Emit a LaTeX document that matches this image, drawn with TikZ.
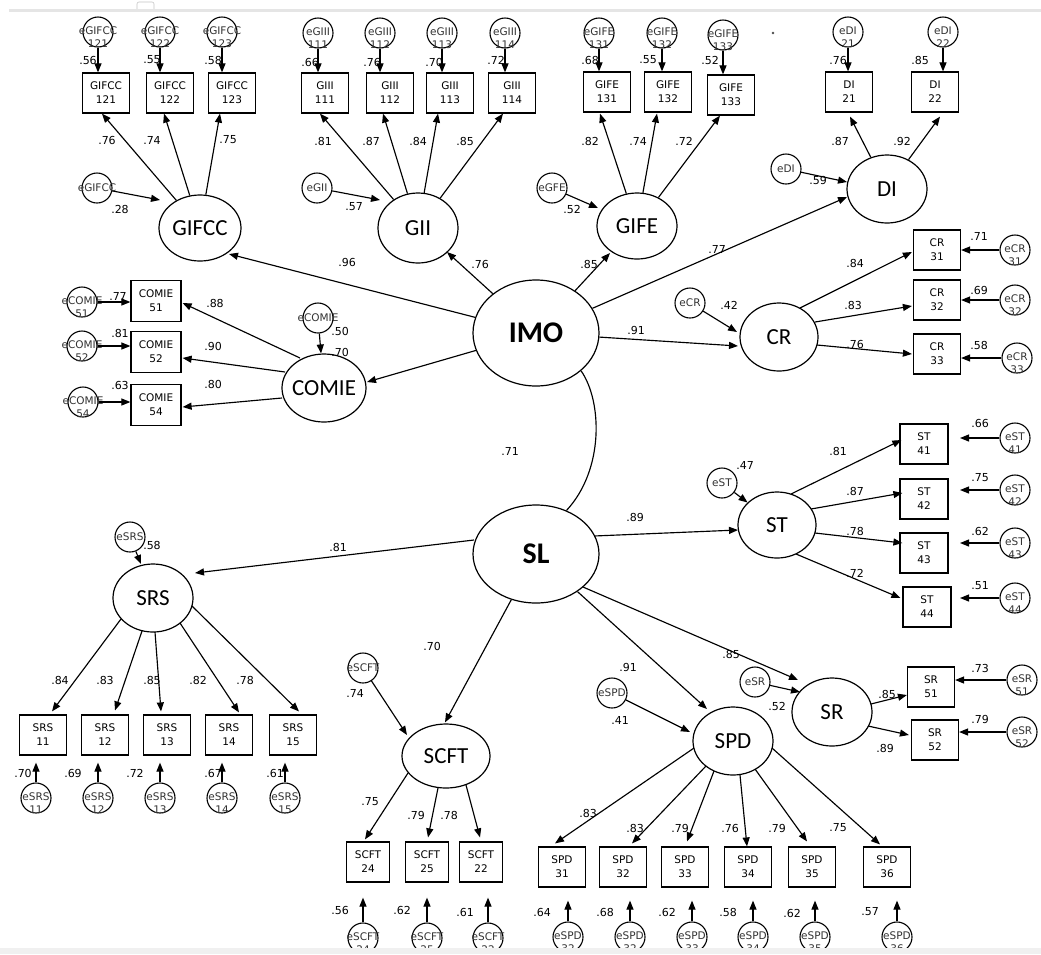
\documentclass[tikz,border=0pt]{standalone}
\usepackage{fontspec}
\setmainfont{DejaVu Sans}
\newfontfamily\latfont{Carlito}
\usetikzlibrary{arrows.meta,shapes.geometric,calc}
\newcommand\zw[1]{\makebox[0pt]{#1}}

\begin{document}
\begin{tikzpicture}[x=1pt,y=-1pt,
  lat/.style={ellipse,draw,line width=1.2pt,inner sep=0pt,minimum width=80pt,minimum height=67pt,
    font=\latfont\fontsize{23}{23}\selectfont},
  core/.style={lat,minimum width=126pt,minimum height=106pt,font=\latfont\bfseries\fontsize{30}{30}\selectfont},
  obs/.style={rectangle,draw,line width=1.2pt,minimum width=47pt,minimum height=40pt,inner sep=0pt,
    align=center,font=\fontsize{10.5}{14}\selectfont},
  etxt/.style={font=\fontsize{10.5}{13.5}\selectfont,text=black!80,align=center,inner sep=0pt,yshift=-5pt},
  err/.style={circle,draw,line width=1.1pt,minimum size=30pt,inner sep=0pt,label={[etxt]center:#1}},
  derr/.style={circle,draw,line width=1.1pt,minimum size=30pt,inner sep=0pt,label={[etxt,yshift=5pt]center:#1}},
  lbl/.style={font=\fontsize{11}{13}\selectfont,inner sep=0pt},
  ar/.style={-{Triangle[length=9pt,width=7pt]},line width=1.15pt},
  cor/.style={line width=1.15pt},
]
\useasboundingbox (0,0) rectangle (1041,954);
\fill[white] (0,0) rectangle (1041,954);
\draw[gray!45,line width=0.6pt,rounded corners=2pt] (137,2) rectangle (154,11);
\draw[gray!20,line width=3pt] (9,10) -- (1041,10);
\fill[black!70] (773,33) circle (1.3);

% second-order factors
\node[core] (imo) at (536,333) {\zw{IMO}};
\node[core,minimum height=98pt] (sl) at (536,554) {\zw{SL}};

% ---------------- GIFCC
\node[lat,minimum width=82pt,minimum height=66pt] (gifcc) at (200,228) {\zw{GIFCC}};
\node[obs] (g1) at (106,93) {GIFCC\\121};
\node[obs] (g2) at (170,93) {GIFCC\\122};
\node[obs] (g3) at (232,93) {GIFCC\\123};
\node[err={eGIFCC\\121}] (eg1) at (98,32) {};
\node[err={eGIFCC\\122}] (eg2) at (160,32) {};
\node[err={eGIFCC\\123}] (eg3) at (222,32) {};
\node[derr=eGIFCC] (egifcc) at (97,188) {};
\foreach \e/\b in {eg1/g1,eg2/g2,eg3/g3} \draw[ar] (\e) -- (\e |- \b.north);
\draw[ar] (gifcc) -- ($(g1.south)+(-4,0)$);
\draw[ar] (gifcc) -- ($(g2.south)+(-6,0)$);
\draw[ar] (gifcc) -- ($(g3.south)+(-12,0)$);
\draw[ar] (egifcc) -- ($(gifcc)+(-40,-28)$);

% ---------------- GII
\node[lat,minimum height=70pt] (gii) at (418,228) {\zw{GII}};
\node[obs] (i1) at (325,93) {GIII\\111};
\node[obs] (i2) at (390,93) {GIII\\112};
\node[obs] (i3) at (450,93) {GIII\\113};
\node[obs] (i4) at (512,93) {GIII\\114};
\node[err={eGIII\\111}] (ei1) at (318,33) {};
\node[err={eGIII\\112}] (ei2) at (380,33) {};
\node[err={eGIII\\113}] (ei3) at (442,33) {};
\node[err={eGIII\\114}] (ei4) at (505,33) {};
\node[derr=eGII] (egii) at (317,188) {};
\foreach \e/\b in {ei1/i1,ei2/i2,ei3/i3,ei4/i4} \draw[ar] (\e) -- (\e |- \b.north);
\draw[ar] (gii) -- ($(i1.south)+(-5,0)$);
\draw[ar] (gii) -- ($(i2.south)+(-7,0)$);
\draw[ar] (gii) -- ($(i3.south)+(-12,0)$);
\draw[ar] (gii) -- ($(i4.south)+(-9,0)$);
\draw[ar] (egii) -- ($(gii)+(-38,-28)$);

% ---------------- GIFE
\node[lat,minimum height=66pt] (gife) at (637,226) {\zw{GIFE}};
\node[obs] (f1) at (607,92) {GIFE\\131};
\node[obs] (f2) at (668,92) {GIFE\\132};
\node[obs] (f3) at (731,95) {GIFE\\133};
\node[err={eGIFE\\131}] (ef1) at (599,33) {};
\node[err={eGIFE\\132}] (ef2) at (662,33) {};
\node[err={eGIFE\\133}] (ef3) at (723,35) {};
\node[derr=eGFE] (egife) at (552,188) {};
\foreach \e/\b in {ef1/f1,ef2/f2,ef3/f3} \draw[ar] (\e) -- (\e |- \b.north);
\draw[ar] (gife) -- ($(f1.south)+(-7,1)$);
\draw[ar] (gife) -- ($(f2.south)+(-11,1)$);
\draw[ar] (gife) -- ($(f3.south)+(-11,0)$);
\draw[ar] (egife) -- ($(gife)+(-39,-18)$);

% ---------------- DI
\node[lat,minimum height=68pt] (di) at (887,189) {\zw{DI}};
\node[obs] (d1) at (849,92) {DI\\21};
\node[obs] (d2) at (935,92) {DI\\22};
\node[err={eDI\\21}] (ed1) at (848,32) {};
\node[err={eDI\\22}] (ed2) at (943,32) {};
\node[derr=eDI] (edi) at (786,169) {};
\foreach \e/\b in {ed1/d1,ed2/d2} \draw[ar] (\e) -- (\e |- \b.north);
\draw[ar] (di) -- ($(d1.south)+(1,4)$);
\draw[ar] (di) -- ($(d2.south)+(5,4)$);
\draw[ar] (edi) -- ($(di)+(-40,-7)$);

% ---------------- COMIE
\node[lat,minimum width=84pt,minimum height=68pt] (comie) at (324,388) {\zw{COMIE}};
\node[obs,minimum width=50pt,minimum height=41pt] (c1) at (156,301) {COMIE\\51};
\node[obs,minimum width=50pt,minimum height=41pt] (c2) at (156,352) {COMIE\\52};
\node[obs,minimum width=50pt,minimum height=41pt] (c3) at (156,405) {COMIE\\54};
\node[err={eCOMIE\\51}] (ec1) at (82,302) {};
\node[err={eCOMIE\\52}] (ec2) at (82,346) {};
\node[err={eCOMIE\\54}] (ec3) at (83,402) {};
\node[derr=eCOMIE] (ecomie) at (318,318) {};
\foreach \e/\b in {ec1/c1,ec2/c2,ec3/c3} \draw[ar] (\e) -- (\e -| \b.west);
\draw[ar] ($(comie)+(-24,-30)$) -- ($(c1.east)+(1,2)$);
\draw[ar] ($(comie)+(-39,-16)$) -- ($(c2.east)+(1,6)$);
\draw[ar] ($(comie)+(-42,10)$) -- ($(c3.east)+(1,2)$);
\draw[ar] (ecomie) -- (comie);

% ---------------- CR
\node[lat,minimum width=78pt,minimum height=68pt] (cr) at (779,337) {\zw{CR}};
\node[obs] (r1) at (937,250) {CR\\31};
\node[obs] (r2) at (937,300) {CR\\32};
\node[obs] (r3) at (937,354) {CR\\33};
\node[err={eCR\\31}] (er1) at (1015,250) {};
\node[err={eCR\\32}] (er2) at (1015,300) {};
\node[err={eCR\\33}] (er3) at (1017,358) {};
\node[derr=eCR] (ecr) at (690,303) {};
\foreach \e/\b in {er1/r1,er2/r2,er3/r3} \draw[ar] (\e) -- (\e -| \b.east);
\draw[ar] ($(cr)+(21,-29)$) -- ($(r1.west)+(-1,2)$);
\draw[ar] ($(cr)+(36,-15)$) -- ($(r2.west)+(-1,6)$);
\draw[ar] ($(cr)+(38,8)$) -- ($(r3.west)+(-1,0)$);
\draw[ar] (ecr) -- ($(cr)+(-42,-5)$);

% ---------------- ST
\node[lat,minimum width=78pt,minimum height=66pt] (st) at (777,525) {\zw{ST}};
\node[obs,minimum width=48pt] (s1) at (924,444) {ST\\41};
\node[obs,minimum width=48pt] (s2) at (924,499) {ST\\42};
\node[obs,minimum width=48pt] (s3) at (924,553) {ST\\43};
\node[obs,minimum width=48pt] (s4) at (927,607) {ST\\44};
\node[err={eST\\41}] (es1) at (1015,438) {};
\node[err={eST\\42}] (es2) at (1015,490) {};
\node[err={eST\\43}] (es3) at (1015,543) {};
\node[err={eST\\44}] (es4) at (1015,598) {};
\node[derr=eST] (est) at (722,483) {};
\foreach \e in {es1,es2,es3,es4} \draw[ar] (\e) -- ($(\e)+(-55,0)$);
\draw[ar] ($(st)+(14,-31)$) -- ($(s1.west)+(2,-4)$);
\draw[ar] ($(st)+(34,-16)$) -- ($(s2.west)+(3,-6)$);
\draw[ar] ($(st)+(38,8)$) -- ($(s3.west)+(3,-10)$);
\draw[ar] ($(st)+(19,29)$) -- ($(s4.west)+(-2,-9)$);
\draw[ar] (est) -- (st);

% ---------------- SRS
\node[lat,minimum height=68pt] (srs) at (153,598) {\zw{SRS}};
\node[derr=eSRS] (esrs) at (130,537) {};
\node[obs] (q1) at (43,735) {SRS\\11};
\node[obs] (q2) at (105,735) {SRS\\12};
\node[obs] (q3) at (167,735) {SRS\\13};
\node[obs] (q4) at (229,735) {SRS\\14};
\node[obs] (q5) at (293,735) {SRS\\15};
\node[err={eSRS\\11}] (eq1) at (36,798) {};
\node[err={eSRS\\12}] (eq2) at (98,798) {};
\node[err={eSRS\\13}] (eq3) at (160,798) {};
\node[err={eSRS\\14}] (eq4) at (222,798) {};
\node[err={eSRS\\15}] (eq5) at (285,798) {};
\foreach \e/\b in {eq1/q1,eq2/q2,eq3/q3,eq4/q4,eq5/q5} \draw[ar] (\e) -- ($(\e |- \b.south)+(0,7)$);
\draw[ar] ($(srs)+(-32,21)$) -- ($(q1.north)+(9,-3)$);
\draw[ar] ($(srs)+(-11,33)$) -- ($(q2.north)+(10,-4)$);
\draw[ar] ($(srs)+(2,34)$) -- ($(q3.north)+(-6,-3)$);
\draw[ar] ($(srs)+(27,25)$) -- ($(q4.north)+(10,-2)$);
\draw[ar] ($(srs)+(39,8)$) -- ($(q5.north)+(6,-3)$);
\draw[ar] (esrs) -- ($(srs)+(-12,-34)$);

% ---------------- SCFT
\node[lat,minimum width=88pt,minimum height=64pt] (scft) at (446,756) {\zw{SCFT}};
\node[derr=eSCFT] (esc) at (363,668) {};
\node[obs,minimum width=43pt] (t1) at (368,862) {SCFT\\24};
\node[obs,minimum width=43pt] (t2) at (427,862) {SCFT\\25};
\node[obs,minimum width=43pt] (t3) at (481,862) {SCFT\\22};
\node[err={eSCFT\\24}] (et1) at (363,938) {};
\node[err={eSCFT\\25}] (et2) at (427,938) {};
\node[err={eSCFT\\22}] (et3) at (488,938) {};
\foreach \e/\b in {et1/t1,et2/t2,et3/t3} \draw[ar] (\e) -- ($(\e |- \b.south)+(0,15)$);
\draw[ar] ($(scft)+(-38,17)$) -- ($(t1.north)+(-3,-2)$);
\draw[ar] ($(scft)+(-8,32)$) -- ($(t2.north)+(1,-4)$);
\draw[ar] ($(scft)+(20,29)$) -- ($(t3.north)+(-1,-4)$);
\draw[ar] (esc) -- ($(scft)+(-39,-21)$);

% ---------------- SPD
\node[lat,minimum height=68pt] (spd) at (733,741) {\zw{SPD}};
\node[derr=eSPD] (esp) at (612,693) {};
\node[obs] (p1) at (562,867) {SPD\\31};
\node[obs] (p2) at (623,867) {SPD\\32};
\node[obs] (p3) at (685,867) {SPD\\33};
\node[obs] (p4) at (748,867) {SPD\\34};
\node[obs] (p5) at (812,867) {SPD\\35};
\node[obs] (p6) at (887,867) {SPD\\36};
\node[err={eSPD\\32}] (ep1) at (568,937) {};
\node[err={eSPD\\32}] (ep2) at (630,937) {};
\node[err={eSPD\\33}] (ep3) at (692,937) {};
\node[err={eSPD\\34}] (ep4) at (753,937) {};
\node[err={eSPD\\35}] (ep5) at (815,937) {};
\node[err={eSPD\\36}] (ep6) at (897,937) {};
\foreach \e/\b in {ep1/p1,ep2/p2,ep3/p3,ep4/p4,ep5/p5,ep6/p6} \draw[ar] (\e) -- ($(\e |- \b.south)+(0,13)$);
\draw[ar] ($(spd)+(-39,7)$) -- ($(p1.north)+(-7,-3)$);
\draw[ar] ($(spd)+(-27,25)$) -- ($(p2.north)+(9,-3)$);
\draw[ar] ($(spd)+(-19,30)$) -- ($(p3.north)+(2,-5)$);
\draw[ar] ($(spd)+(7,34)$) -- ($(p4.north)+(-1,0)$);
\draw[ar] ($(spd)+(22,28)$) -- ($(p5.north)+(-5,-5)$);
\draw[ar] ($(spd)+(39,7)$) -- ($(p6.north)+(-7,-2)$);
\draw[ar] (esp) -- ($(spd)+(-43,-9)$);

% ---------------- SR
\node[lat,minimum height=68pt] (sr) at (832,712) {\zw{SR}};
\node[derr=eSR] (esrr) at (755,682) {};
\node[obs] (b1) at (931,687) {SR\\51};
\node[obs] (b2) at (935,740) {SR\\52};
\node[err={eSR\\51}] (eb1) at (1022,680) {};
\node[err={eSR\\52}] (eb2) at (1022,732) {};
\foreach \e/\b in {eb1/b1,eb2/b2} \draw[ar] (\e) -- (\e -| \b.east);
\draw[ar] ($(sr)+(39,-8)$) -- ($(b1.west)+(0,8)$);
\draw[ar] ($(sr)+(36,14)$) -- ($(b2.west)+(-2,-5)$);
\draw[ar] (esrr) -- ($(sr)+(-32,-20)$);

% ---------------- structural paths
\draw[ar] (imo) -- ($(gifcc)+(29,26)$);
\draw[ar] (imo) -- ($(gii)+(29,24)$);
\draw[ar] (imo) -- ($(gife)+(-27,27)$);
\draw[ar] (imo) -- ($(di)+(-40,8)$);
\draw[ar] (imo) -- ($(comie)+(43,-6)$);
\draw[ar] (imo) -- ($(cr)+(-41,9)$);
\draw[cor] (imo.-40) .. controls ($(imo.-40)+(21,30)$) and ($(sl.55)+(38,-41)$) .. (sl.55);
\draw[ar] ($(sl)+(-62,-14)$) -- ($(srs)+(42,-25)$);
\draw[ar] ($(sl)+(58,-18)$) -- ($(st)+(-39,5)$);
\draw[ar] (sl) -- ($(scft.north)+(-1,-1)$);
\draw[ar] (sl) -- ($(spd)+(-26,-32)$);
\draw[ar] ($(sl)+(47,33)$) -- ($(sr)+(-34,-32)$);

% ---------------- coefficients
\foreach \p/\t [count=\k] in {
  {88,60}/.56,{152,60}/.55,{213,60}/.58,{310,62}/.66,{372,62}/.76,{434,62}/.70,{496,60}/.72,
  {590,60}/.68,{648,60}/.55,{710,60}/.52,{838,60}/.76,{920,60}/.85,
  {107,140}/.76,{152,140}/.74,{228,140}/.75,{323,141}/.81,{371,141}/.87,{418,141}/.84,{465,141}/.85,
  {590,141}/.82,{638,141}/.74,{684,141}/.72,{840,141}/.87,{902,141}/.92,
  {120,209}/.28,{354,207}/.57,{572,209}/.52,{818,180}/.59,
  {347,262}/.96,{480,264}/.76,{589,264}/.85,{717,249}/.77,{340,352}/.70,{636,330}/.91,{510,451}/.71,
  {118,296}/.77,{120,333}/.81,{120,385}/.63,{215,303}/.88,{213,346}/.90,{213,384}/.80,{340,331}/.50,
  {729,305}/.42,{855,263}/.84,{853,305}/.83,{855,344}/.76,{979,236}/.71,{979,290}/.69,{979,345}/.58,
  {635,517}/.89,{745,465}/.47,{838,451}/.81,{855,491}/.87,{855,531}/.78,{855,573}/.72,
  {980,423}/.66,{980,478}/.75,{980,531}/.62,{980,586}/.51,
  {338,547}/.81,{152,545}/.58,{60,680}/.84,{105,680}/.83,{152,680}/.85,{198,680}/.82,{245,680}/.78,
  {23,773}/.70,{73,773}/.69,{135,773}/.72,{213,773}/.67,{275,773}/.61,
  {432,646}/.70,{355,693}/.74,{370,802}/.75,{416,815}/.79,{449,815}/.78,
  {340,910}/.56,{402,910}/.62,{465,912}/.61,
  {628,667}/.91,{620,720}/.41,{588,813}/.83,{635,828}/.83,{680,828}/.79,{730,828}/.76,{777,828}/.79,{838,828}/.75,
  {542,912}/.64,{605,912}/.68,{667,912}/.62,{728,912}/.58,{792,913}/.62,{870,912}/.57,
  {731,654}/.85,{777,706}/.52,{887,694}/.85,{885,748}/.89,{980,668}/.73,{980,719}/.79}
  \node[lbl] (v\k) at (\p) {\t};

\fill[gray!12] (0,948) rectangle (1041,954);
\end{tikzpicture}
\end{document}
